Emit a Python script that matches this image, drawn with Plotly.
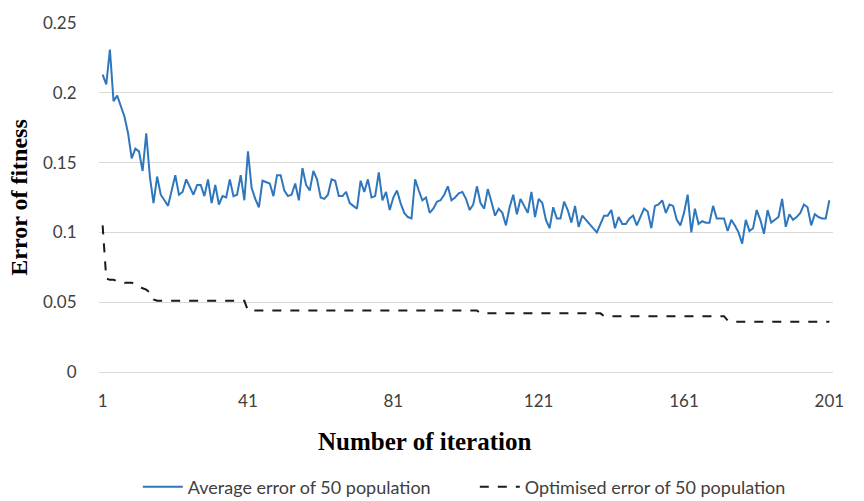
import plotly.graph_objects as go

# Iteration numbers 1..201
iterations = list(range(1, 202))

# Mean error of the 50-member population at each iteration
avg_error = [
    0.213, 0.206, 0.231, 0.194, 0.198, 0.191, 0.183, 0.171, 0.153, 0.160,
    0.158, 0.144, 0.171, 0.140, 0.121, 0.140, 0.127, 0.123, 0.119, 0.130,
    0.141, 0.127, 0.129, 0.138, 0.132, 0.127, 0.134, 0.134, 0.126, 0.138,
    0.121, 0.134, 0.120, 0.126, 0.125, 0.138, 0.126, 0.127, 0.141, 0.123,
    0.158, 0.132, 0.124, 0.118, 0.137, 0.136, 0.135, 0.126, 0.141, 0.141,
    0.130, 0.126, 0.127, 0.135, 0.123, 0.146, 0.134, 0.130, 0.144, 0.138,
    0.125, 0.124, 0.127, 0.138, 0.137, 0.126, 0.126, 0.129, 0.121, 0.119,
    0.117, 0.137, 0.129, 0.138, 0.125, 0.126, 0.143, 0.123, 0.129, 0.116,
    0.125, 0.130, 0.121, 0.114, 0.111, 0.110, 0.138, 0.130, 0.123, 0.125,
    0.114, 0.117, 0.122, 0.123, 0.127, 0.133, 0.123, 0.125, 0.128, 0.129,
    0.124, 0.116, 0.120, 0.133, 0.121, 0.117, 0.131, 0.122, 0.112, 0.117,
    0.114, 0.105, 0.118, 0.127, 0.113, 0.124, 0.119, 0.114, 0.129, 0.111,
    0.124, 0.121, 0.109, 0.103, 0.118, 0.110, 0.110, 0.122, 0.116, 0.107,
    0.119, 0.104, 0.112, 0.109, 0.106, 0.103, 0.100, 0.106, 0.112, 0.112,
    0.116, 0.103, 0.111, 0.106, 0.106, 0.110, 0.112, 0.105, 0.111, 0.117,
    0.115, 0.103, 0.119, 0.120, 0.123, 0.114, 0.120, 0.119, 0.109, 0.105,
    0.114, 0.127, 0.100, 0.117, 0.106, 0.108, 0.107, 0.107, 0.119, 0.110,
    0.110, 0.110, 0.101, 0.109, 0.105, 0.100, 0.092, 0.109, 0.101, 0.103,
    0.116, 0.109, 0.099, 0.116, 0.107, 0.109, 0.111, 0.124, 0.104, 0.113,
    0.109, 0.111, 0.114, 0.120, 0.118, 0.105, 0.113, 0.111, 0.110, 0.110,
    0.123,
]

# Best (optimised) error of the population at each iteration
best_error = [
    0.105, 0.067, 0.066, 0.066, 0.065, 0.065, 0.064, 0.064, 0.064, 0.063,
    0.061, 0.060, 0.059, 0.057, 0.052, 0.051, 0.051, 0.051, 0.051, 0.051,
    0.051, 0.051, 0.051, 0.051, 0.051, 0.051, 0.051, 0.051, 0.051, 0.051,
    0.051, 0.051, 0.051, 0.051, 0.051, 0.051, 0.051, 0.051, 0.051, 0.051,
    0.044, 0.044, 0.044, 0.044, 0.044, 0.044, 0.044, 0.044, 0.044, 0.044,
    0.044, 0.044, 0.044, 0.044, 0.044, 0.044, 0.044, 0.044, 0.044, 0.044,
    0.044, 0.044, 0.044, 0.044, 0.044, 0.044, 0.044, 0.044, 0.044, 0.044,
    0.044, 0.044, 0.044, 0.044, 0.044, 0.044, 0.044, 0.044, 0.044, 0.044,
    0.044, 0.044, 0.044, 0.044, 0.044, 0.044, 0.044, 0.044, 0.044, 0.044,
    0.044, 0.044, 0.044, 0.044, 0.044, 0.044, 0.044, 0.044, 0.044, 0.044,
    0.044, 0.044, 0.044, 0.044, 0.042, 0.042, 0.042, 0.042, 0.042, 0.042,
    0.042, 0.042, 0.042, 0.042, 0.042, 0.042, 0.042, 0.042, 0.042, 0.042,
    0.042, 0.042, 0.042, 0.042, 0.042, 0.042, 0.042, 0.042, 0.042, 0.042,
    0.042, 0.042, 0.042, 0.042, 0.042, 0.042, 0.042, 0.042, 0.040, 0.040,
    0.040, 0.040, 0.040, 0.040, 0.040, 0.040, 0.040, 0.040, 0.040, 0.040,
    0.040, 0.040, 0.040, 0.040, 0.040, 0.040, 0.040, 0.040, 0.040, 0.040,
    0.040, 0.040, 0.040, 0.040, 0.040, 0.040, 0.040, 0.040, 0.040, 0.040,
    0.040, 0.040, 0.037, 0.036, 0.036, 0.036, 0.036, 0.036, 0.036, 0.036,
    0.036, 0.036, 0.036, 0.036, 0.036, 0.036, 0.036, 0.036, 0.036, 0.036,
    0.036, 0.036, 0.036, 0.036, 0.036, 0.036, 0.036, 0.036, 0.036, 0.036,
    0.036,
]

x_ticks = [1, 41, 81, 121, 161, 201]
y_ticks = [0, 0.05, 0.1, 0.15, 0.2, 0.25]
y_tick_text = ["0", "0.05", "0.1", "0.15", "0.2", "0.25"]

series_names = ["Average error of 50 population", "Optimised error of 50 population"]

label_font = "Lato, 'Open Sans', sans-serif"
title_font = "'Liberation Serif', 'Times New Roman', serif"

fig = go.Figure()
fig.add_trace(go.Scatter(
    x=iterations, y=avg_error, mode="lines", name=series_names[0],
    line=dict(color="#2f77bd", width=2),
))
fig.add_trace(go.Scatter(
    x=iterations, y=best_error, mode="lines", name=series_names[1],
    line=dict(color="#1a1a1a", width=2, dash="dash"),
))

fig.update_layout(
    width=864, height=501,
    margin=dict(l=99, r=31, t=18, b=129),
    paper_bgcolor="white", plot_bgcolor="white",
    showlegend=True,
    legend=dict(
        orientation="h", x=0.512, xanchor="center",
        yref="container", y=0.028, yanchor="middle",
        font=dict(family=label_font, size=18, color="#404040"),
        entrywidth=282, entrywidthmode="pixels",
        itemwidth=40, tracegroupgap=0,
    ),
    xaxis=dict(
        range=[0, 202], tickvals=x_ticks,
        showgrid=False, zeroline=False, showline=False,
        ticks="outside", ticklen=14, tickcolor="rgba(0,0,0,0)",
        tickfont=dict(family=label_font, size=17, color="#404040"),
    ),
    yaxis=dict(
        range=[0, 0.25], tickvals=y_ticks, ticktext=y_tick_text,
        showgrid=True, gridcolor="#d9d9d9", gridwidth=1,
        zeroline=True, zerolinecolor="#d9d9d9", zerolinewidth=1,
        showline=False,
        ticks="outside", ticklen=18, tickcolor="rgba(0,0,0,0)",
        tickfont=dict(family=label_font, size=17, color="#404040"),
        title=dict(text="<b>Error of fitness</b>", standoff=8,
                   font=dict(family=title_font, size=24, color="#000000")),
    ),
    annotations=[dict(
        text="<b>Number of iteration</b>", showarrow=False,
        xref="paper", yref="paper", x=0.443, y=-0.2,
        xanchor="center", yanchor="middle",
        font=dict(family=title_font, size=25, color="#000000"),
    )],
)

fig.write_html("out.html")
